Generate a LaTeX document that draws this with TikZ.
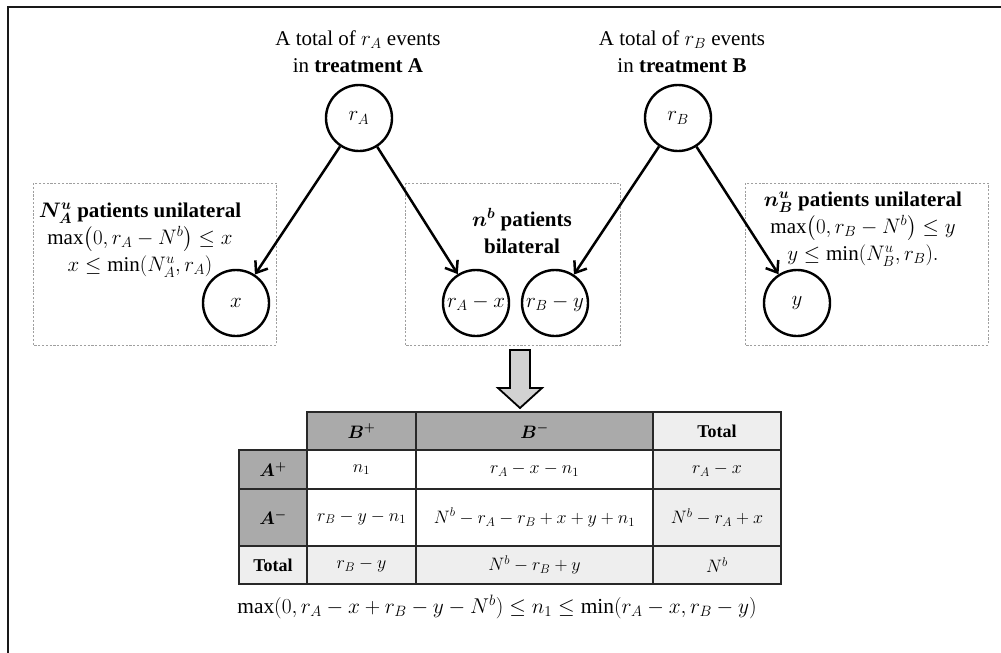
\RequirePackage{fix-cm}
\documentclass[tikz,border=0pt]{standalone}
\usepackage{amsmath,bm}
\usepackage{fontspec}
\setmainfont{Liberation Serif}
\usetikzlibrary{arrows.meta}
\definecolor{hdr}{RGB}{170,170,170}
\definecolor{lite}{RGB}{238,238,238}
\definecolor{tline}{RGB}{40,40,40}
\tikzset{
  circ/.style={circle, draw, line width=2.4pt, minimum size=66pt, inner sep=0pt, font=\fontsize{21}{25}\selectfont},
  arr/.style={-{Straight Barb[length=10pt,width=15pt]}, line width=2.5pt},
  dbox/.style={draw=gray!75, dash pattern=on 2.2pt off 1.6pt, line width=0.9pt},
  lbl/.style={align=center, font=\fontsize{21}{27}\selectfont, inner sep=0pt},
  cell/.style={draw=tline, line width=1.6pt, inner sep=0pt, font=\fontsize{18}{22}\selectfont},
  c1/.style={minimum width=68pt}, c2/.style={minimum width=109pt},
  c3/.style={minimum width=237pt}, c4/.style={minimum width=128pt},
  r0/.style={minimum height=38pt}, r1/.style={minimum height=39pt},
  r2/.style={minimum height=57pt}, r3/.style={minimum height=38pt},
  bigarr/.style={fill=gray!35, draw=black, line width=1.8pt, line join=miter}
}
\begin{document}
\begin{tikzpicture}[x=1pt,y=-1pt]
\useasboundingbox (0,0) rectangle (1001,653);
% frame
\draw[line width=2.6pt, black!90] (8,653) -- (8,7) -- (1001,7);
% dashed boxes
\draw[dbox] (33,183) rectangle (276,345);
\draw[dbox] (405,183) rectangle (620,345);
\draw[dbox] (745,183) rectangle (988,345);
% headers
\node[lbl] (tA) at (358,52) {A total of $r_A$ events\\in \textbf{treatment A}};
\node[lbl] (tB) at (682,52) {A total of $r_B$ events\\in \textbf{treatment B}};
% box texts
\node[lbl] (uA) at (140,240) {$\bm{N^{u}_{A}}$ \textbf{patients unilateral}\\$\max\bigl(0,r_A-N^b\bigr)\le x$\\$x\le\min(N^u_A,r_A)$};
\node[lbl] (bi) at (522,231) {$\bm{n^{b}}$ \textbf{patients}\\\textbf{bilateral}};
\node[lbl] (uB) at (863,229) {$\bm{n^{u}_{B}}$ \textbf{patients unilateral}\\$\max\bigl(0,r_B-N^b\bigr)\le y$\\$y\le\min(N^u_B,r_B).$};
% circles
\node[circ] (rA) at (359,118) {$r_A$};
\node[circ] (rB) at (678,118) {$r_B$};
\node[circ] (x) at (236,303) {$x$};
\node[circ] (rAx) at (476,303) {$r_A-x$};
\node[circ] (rBy) at (555,303) {$r_B-y$};
\node[circ] (y) at (797,303) {$y$};
% arrows
\draw[arr] (rA) -- (x);
\draw[arr] (rA) -- (rAx);
\draw[arr] (rB) -- (rBy);
\draw[arr] (rB) -- (y);
% big arrow
\draw[bigarr] (510,350) -- (530,350) -- (530,388) -- (542,388) -- (520,408) -- (498,388) -- (510,388) -- cycle;
% table
\node[cell,c2,r0,fill=hdr] (hBp) at (361.5,431) {$\bm{B}^{\bm{+}}$};
\node[cell,c3,r0,fill=hdr] (hBm) at (534.5,431) {$\bm{B}^{\bm{-}}$};
\node[cell,c4,r0,fill=lite] (hT) at (717,431) {\textbf{Total}};
\node[cell,c1,r1,fill=hdr] (hAp) at (273,469.5) {$\bm{A}^{\bm{+}}$};
\node[cell,c2,r1,fill=white] (c11) at (361.5,469.5) {$n_1$};
\node[cell,c3,r1,fill=white] (c12) at (534.5,469.5) {$r_A-x-n_1$};
\node[cell,c4,r1,fill=lite] (c13) at (717,469.5) {$r_A-x$};
\node[cell,c1,r2,fill=hdr] (hAm) at (273,517.5) {$\bm{A}^{\bm{-}}$};
\node[cell,c2,r2,fill=white] (c21) at (361.5,517.5) {$r_B-y-n_1$};
\node[cell,c3,r2,fill=white] (c22) at (534.5,517.5) {$N^b-r_A-r_B+x+y+n_1$};
\node[cell,c4,r2,fill=lite] (c23) at (717,517.5) {$N^b-r_A+x$};
\node[cell,c1,r3,fill=lite] (hTr) at (273,565) {\textbf{Total}};
\node[cell,c2,r3,fill=lite] (c31) at (361.5,565) {$r_B-y$};
\node[cell,c3,r3,fill=lite] (c32) at (534.5,565) {$N^b-r_B+y$};
\node[cell,c4,r3,fill=lite] (c33) at (717,565) {$N^b$};
% formula
\node[lbl, font=\fontsize{21.4}{25}\selectfont] (f) at (497,607) {$\max(0,r_A-x+r_B-y-N^b)\le n_1\le\min(r_A-x,r_B-y)$};
\end{tikzpicture}
\end{document}
